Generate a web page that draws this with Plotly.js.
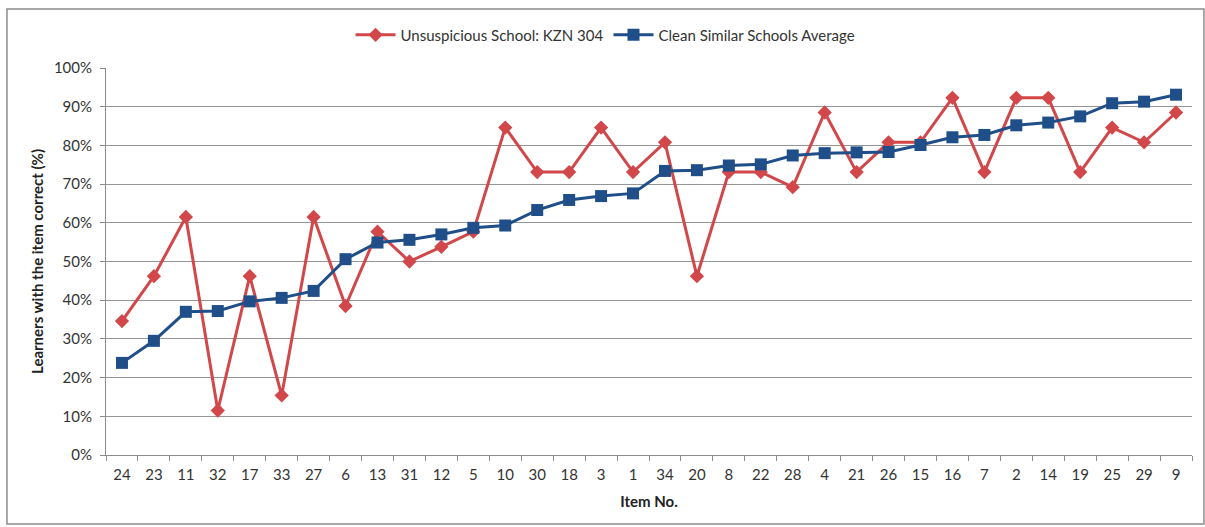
<!DOCTYPE html>
<html>
<head>
<meta charset="utf-8">
<script src="https://cdn.plot.ly/plotly-3.0.1.min.js"></script>
<style>html,body{margin:0;padding:0;background:#fff;}#chart{width:1205px;height:527px;}</style>
</head>
<body>
<div id="chart"></div>
<script>
const items = ["24","23","11","32","17","33","27","6","13","31","12","5","10","30","18","3","1","34","20","8","22","28","4","21","26","15","16","7","2","14","19","25","29","9"];
const schoolKZN304 = [34.6,46.2,61.5,11.5,46.2,15.4,61.5,38.5,57.7,50.0,53.8,57.7,84.6,73.1,73.1,84.6,73.1,80.8,46.2,73.1,73.1,69.2,88.5,73.1,80.8,80.8,92.3,73.1,92.3,92.3,73.1,84.6,80.8,88.5];
const similarAvg = [23.8,29.5,37.0,37.2,39.7,40.6,42.4,50.6,54.9,55.6,57.0,58.7,59.3,63.3,65.9,66.9,67.6,73.4,73.6,74.8,75.1,77.4,78.0,78.2,78.3,80.1,82.1,82.7,85.2,85.9,87.5,90.9,91.3,93.1];
const seriesNames = ["Unsuspicious School: KZN 304","Clean Similar Schools Average"];
const yTickVals = [0,10,20,30,40,50,60,70,80,90,100];
const yTickText = yTickVals.map(v => v + "%");

const fontFam = "Lato, 'Open Sans', 'Liberation Sans', sans-serif";

const traces = [
  {
    x: items, y: schoolKZN304, name: seriesNames[0], type: "scatter", mode: "lines+markers",
    line: {color: "#D2474A", width: 3},
    marker: {symbol: "diamond", size: 11, color: "#D2474A"}
  },
  {
    x: items, y: similarAvg, name: seriesNames[1], type: "scatter", mode: "lines+markers",
    line: {color: "#1F4E89", width: 3},
    marker: {symbol: "square", size: 12, color: "#1F4E89"}
  }
];

const layout = {
  width: 1205, height: 527,
  margin: {l: 106, r: 13, t: 68, b: 72},
  paper_bgcolor: "#ffffff", plot_bgcolor: "#ffffff",
  font: {family: fontFam, size: 14, color: "#333333"},
  showlegend: true,
  legend: {orientation: "h", x: 0.46, xanchor: "center", y: 1.085, yanchor: "middle",
           font: {family: fontFam, size: 15, color: "#333"}, itemwidth: 40},
  xaxis: {
    type: "category", range: [-0.5, items.length - 0.5],
    showgrid: false, showline: true, linecolor: "#8c8c8c", linewidth: 1,
    ticks: "outside", tickson: "boundaries", ticklen: 5, tickcolor: "#8c8c8c",
    ticklabelstandoff: 6,
    tickfont: {family: fontFam, size: 15, color: "#333"},
    title: {text: "<b>Item No.</b>", font: {family: fontFam, size: 15, color: "#222"}, standoff: 14},
    zeroline: false, fixedrange: true
  },
  yaxis: {
    range: [0, 100], tickvals: yTickVals, ticktext: yTickText,
    showgrid: true, gridcolor: "#959595", gridwidth: 1,
    showline: true, linecolor: "#8c8c8c", linewidth: 1,
    ticks: "outside", ticklen: 5, tickcolor: "#8c8c8c",
    ticklabelstandoff: 5,
    tickfont: {family: fontFam, size: 15, color: "#333"},
    title: {text: "<b>Learners with the item correct (%)</b>", font: {family: fontFam, size: 15, color: "#222"}, standoff: 6},
    zeroline: false, fixedrange: true
  },
  shapes: [
    {type: "rect", xref: "paper", yref: "paper", x0: -0.0912, x1: 1.011, y0: -0.178, y1: 1.1525,
     line: {color: "#8c8c8c", width: 1.5}, fillcolor: "rgba(0,0,0,0)", layer: "below"}
  ]
};

Plotly.newPlot("chart", traces, layout, {displayModeBar: false, staticPlot: true});
</script>
</body>
</html>
